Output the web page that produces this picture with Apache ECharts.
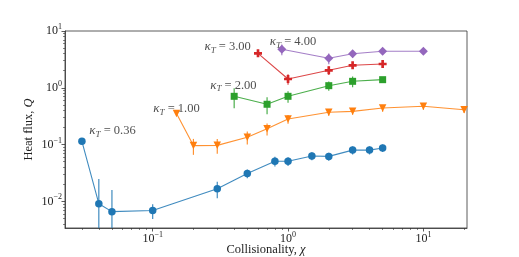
<!DOCTYPE html>
<html><head><meta charset="utf-8">
<script src="https://cdn.jsdelivr.net/npm/echarts@6/dist/echarts.min.js"></script>
<style>html,body{margin:0;padding:0;background:#fff}#c{width:519px;height:257px}</style>
</head><body><div id="c"></div>
<script>
// kappa_T = 0.36
const chiA = [0.03, 0.04, 0.05, 0.1, 0.3, 0.5, 0.8, 1, 1.5, 2, 3, 4, 5];
const qA   = [0.114, 0.0091, 0.0066, 0.0069, 0.0167, 0.031, 0.051, 0.051, 0.063, 0.062, 0.080, 0.080, 0.087];
const eA   = [0.01, 0.0157, 0.0093, 0.002, 0.0054, 0.0055, 0.01, 0.009, 0.01, 0.01, 0.013, 0.013, 0.013];
// kappa_T = 1.00
const chiB = [0.15, 0.2, 0.3, 0.5, 0.7, 1, 2, 3, 5, 10, 20];
const qB   = [0.353, 0.096, 0.097, 0.135, 0.19, 0.282, 0.371, 0.385, 0.44, 0.472, 0.41];
const eB   = [0.02, 0.03, 0.028, 0.035, 0.045, 0.05, 0.05, 0.05, 0.06, 0.06, 0.05];
// kappa_T = 2.00
const chiC = [0.4, 0.7, 1, 2, 3, 5];
const qC   = [0.708, 0.513, 0.708, 1.09, 1.30, 1.39];
const eC   = [0.27, 0.17, 0.16, 0.2, 0.28, 0.1];
// kappa_T = 3.00
const chiD = [0.6, 1, 2, 3, 5];
const qD   = [4.05, 1.43, 2.03, 2.49, 2.62];
const eD   = [0.5, 0.3, 0.35, 0.35, 0.4];
// kappa_T = 4.00
const chiE = [0.9, 2, 3, 5, 10];
const qE   = [4.76, 3.31, 3.98, 4.40, 4.40];
const eE   = [1.0, 0.7, 0.6, 0.5, 0.5];

const annX = [0.034, 0.101, 0.266, 0.241, 0.733];
const annY = [0.173, 0.428, 1.107, 5.29, 6.48];
const annText = ['0.36', '1.00', '2.00', '3.00', '4.00'];

const majorX = [0.1, 1, 10];
const minorX = [0.03,0.04,0.05,0.06,0.07,0.08,0.09,0.2,0.3,0.4,0.5,0.6,0.7,0.8,0.9,2,3,4,5,6,7,8,9,20];
const majorY = [0.01, 0.1, 1, 10];
const minorY = [0.004,0.005,0.006,0.007,0.008,0.009,0.02,0.03,0.04,0.05,0.06,0.07,0.08,0.09,0.2,0.3,0.4,0.5,0.6,0.7,0.8,0.9,2,3,4,5,6,7,8,9];

const FONT = 'Liberation Serif';
const AX = '#333';
const xMin = 0.0225, xMax = 21, yMin = 0.0034, yMax = 10;

function powFmt(v) {
  const e = Math.round(Math.log10(v));
  return '{b|10}{s|' + (e < 0 ? '\u2212' + (-e) : e) + '}';
}
const powRich = {
  b: {fontFamily: FONT, fontSize: 12, color: '#222', lineHeight: 16},
  s: {fontFamily: FONT, fontSize: 8, color: '#222', verticalAlign: 'top', lineHeight: 8}
};

const groups = [
  {x: chiA, y: qA, e: eA, color: '#1f77b4', symbol: 'circle', size: 7.5},
  {x: chiB, y: qB, e: eB, color: '#ff7f0e', symbol: 'triangle', size: 7.5, rot: 180},
  {x: chiC, y: qC, e: eC, color: '#2ca02c', symbol: 'rect', size: 7},
  {x: chiD, y: qD, e: eD, color: '#d62728', symbol: 'path://M-1,-3H1V-1H3V1H1V3H-1V1H-3V-1H-1Z', size: 8},
  {x: chiE, y: qE, e: eE, color: '#9467bd', symbol: 'diamond', size: 9}
];

const series = [];
groups.forEach((g, gi) => {
  const color = g.color;
  series.push({
    type: 'custom', xAxisIndex: 0, yAxisIndex: 0, z: 2 + gi * 3,
    data: g.x.map((v, i) => [v, g.y[i], g.e[i]]),
    renderItem: function (params, api) {
      const x = api.value(0), y = api.value(1), e = api.value(2);
      const cs = params.coordSys;
      const top = api.coord([x, y + e]);
      const lo = y - e;
      const bot = lo > 0 ? api.coord([x, lo]) : [top[0], cs.y + cs.height];
      const y1 = Math.max(top[1], cs.y), y2 = Math.min(bot[1], cs.y + cs.height);
      return {type: 'line', shape: {x1: top[0], y1: y1, x2: top[0], y2: y2},
        style: {stroke: color, lineWidth: 1.2, opacity: 0.85}};
    },
    silent: true
  });
  series.push({
    type: 'line', xAxisIndex: 0, yAxisIndex: 0, z: 3 + gi * 3,
    data: g.x.map((v, i) => [v, g.y[i]]),
    symbol: g.symbol, symbolSize: g.size, symbolRotate: g.rot || 0,
    showAllSymbol: true,
    lineStyle: {color: color, width: 1.1, opacity: 0.85},
    itemStyle: {color: color, borderWidth: 0},
    emphasis: {disabled: true}
  });
});

series.push({
  type: 'scatter', xAxisIndex: 0, yAxisIndex: 0, symbolSize: 0, z: 30,
  data: annX.map((v, i) => [v, annY[i], annText[i]]),
  label: {
    show: true, position: 'right', distance: 0,
    formatter: p => '{k|\u03ba}{t|T}{n| = ' + p.data[2] + '}',
    rich: {
      k: {fontFamily: FONT, fontStyle: 'italic', fontSize: 13, color: '#222', lineHeight: 16},
      t: {fontFamily: FONT, fontStyle: 'italic', fontSize: 9, color: '#222', verticalAlign: 'bottom', lineHeight: 9},
      n: {fontFamily: FONT, fontSize: 12.5, color: '#222', lineHeight: 16}
    }
  }
});

const chart = echarts.init(document.getElementById('c'), null, {renderer: 'canvas'});
chart.setOption({
  animation: false,
  backgroundColor: '#fff',
  grid: {left: 65, right: 52, top: 31, bottom: 29, containLabel: false, outerBoundsMode: 'none',
    show: true, borderColor: AX, borderWidth: 0.8, backgroundColor: 'transparent'},
  xAxis: [
    {type: 'log', logBase: 10, min: xMin, max: xMax, position: 'bottom',
     axisLine: {show: true, onZero: false, lineStyle: {color: AX, width: 0.8}},
     axisTick: {show: true, length: 3.5, customValues: majorX, lineStyle: {color: AX, width: 0.8}},
     axisLabel: {customValues: majorX, formatter: powFmt, rich: powRich, margin: 3},
     splitLine: {show: false},
     name: 'Collisionality, {i|\u03c7}', nameLocation: 'middle', nameGap: 15, nameMoveOverlap: false,
     nameTextStyle: {fontFamily: FONT, fontSize: 12.5, color: '#222',
       rich: {i: {fontFamily: FONT, fontStyle: 'italic', fontSize: 12.5, color: '#222'}}}},
    {type: 'log', logBase: 10, min: xMin, max: xMax, position: 'bottom',
     axisLine: {show: false, onZero: false},
     axisTick: {show: true, length: 2, customValues: minorX, lineStyle: {color: AX, width: 0.6}},
     axisLabel: {show: false}, splitLine: {show: false}}
  ],
  yAxis: [
    {type: 'log', logBase: 10, min: yMin, max: yMax, position: 'left',
     axisLine: {show: true, onZero: false, lineStyle: {color: AX, width: 0.8}},
     axisTick: {show: true, length: 3.5, customValues: majorY, lineStyle: {color: AX, width: 0.8}},
     axisLabel: {customValues: majorY, formatter: powFmt, rich: powRich, margin: 3},
     splitLine: {show: false},
     name: 'Heat flux, {i|Q}', nameLocation: 'middle', nameGap: 30, nameRotate: 90, nameMoveOverlap: false,
     nameTextStyle: {fontFamily: FONT, fontSize: 12.5, color: '#222',
       rich: {i: {fontFamily: FONT, fontStyle: 'italic', fontSize: 12.5, color: '#222'}}}},
    {type: 'log', logBase: 10, min: yMin, max: yMax, position: 'left',
     axisLine: {show: false, onZero: false},
     axisTick: {show: true, length: 2, customValues: minorY, lineStyle: {color: AX, width: 0.6}},
     axisLabel: {show: false}, splitLine: {show: false}}
  ],
  series: series
});
</script></body></html>
